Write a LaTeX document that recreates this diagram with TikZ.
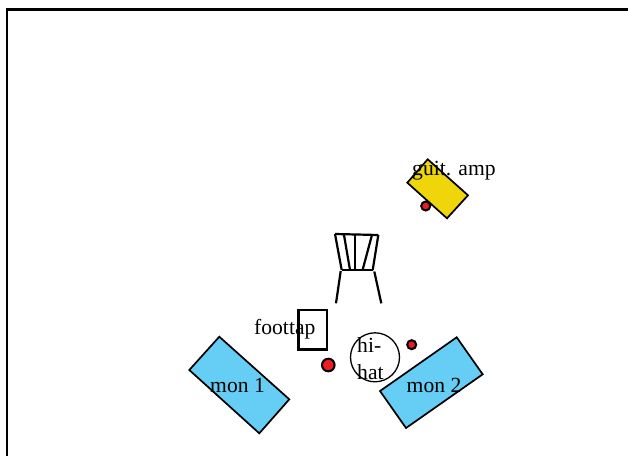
\documentclass[tikz,border=0pt]{standalone}
\usepackage{fontspec}
\setmainfont{Liberation Serif}
\definecolor{monblue}{RGB}{102,205,245}
\definecolor{ampyellow}{RGB}{238,214,10}
\definecolor{dotred}{RGB}{237,28,36}
\newcommand{\cabinet}[9]{\filldraw[#1, draw=black, line width=1.7pt, line join=miter] ( #2 , #3 ) -- ( #4 , #5 ) -- ( #6 , #7 ) -- ( #8 , #9 ) -- cycle;}
\newcommand{\micdot}[3]{\filldraw[fill=dotred, draw=black, line width=2pt] ( #1 , #2 ) circle ( #3 );}
\newcommand{\chairbar}[4]{\draw[line width=2.2pt] ( #1 , #2 ) -- ( #3 , #4 );}
\tikzset{lbl/.style={inner sep=0pt, anchor=base west, font=\fontsize{21.6}{27}\selectfont}}

\begin{document}
\begin{tikzpicture}[x=1pt, y=-1pt]
            \useasboundingbox (0,0) rectangle (628,456);
            % stage outline
            \draw[line width=2.2pt] (7.2,456) -- (7.2,9.5) -- (628,9.5);
            % guitar amp
            \micdot{425.7}{206}{4.5pt}
            \cabinet{ampyellow}{427.7}{159.3}{407.3}{182.7}{447}{218.3}{468}{195.3}
            % chair
            \chairbar{335}{234}{378.3}{235}
            \chairbar{335}{234}{341.7}{270}
            \chairbar{378.3}{235}{372.7}{270}
            \chairbar{341.7}{270}{372.7}{270}
            \chairbar{344}{235}{350}{270}
            \chairbar{355}{235}{355}{270}
            \chairbar{371.7}{236}{362.7}{269.5}
            \chairbar{340.7}{271}{336}{303.3}
            \chairbar{374.3}{271.5}{381.3}{303.3}
            % foot tap
            \draw[line width=2.1pt] (298.5,310) rectangle (327.3,349.5);
            % hi-hat
            \draw[line width=1.3pt] (375,357.3) circle (24.5pt);
            % mics
            \micdot{328.3}{365}{6.3pt}
            \micdot{411.7}{344.7}{4.5pt}
            % monitors
            \cabinet{monblue}{219.3}{336.7}{189.3}{370}{259.3}{433.3}{289.3}{399.3}
            \cabinet{monblue}{456.7}{337.3}{482.7}{374.3}{406}{428}{380}{391}
            % labels
            \node[lbl] (amplabel) at (412,175) {guit. amp};
            \node[lbl] (taplabel) at (254,334) {foottap};
            \node[lbl] (hilabel) at (357,352) {hi-};
            \node[lbl] (hatlabel) at (357,379) {hat};
            \node[lbl] (monone) at (210,392.5) {mon 1};
            \node[lbl] (montwo) at (406.5,392.5) {mon 2};
        \end{tikzpicture}
\end{document}
